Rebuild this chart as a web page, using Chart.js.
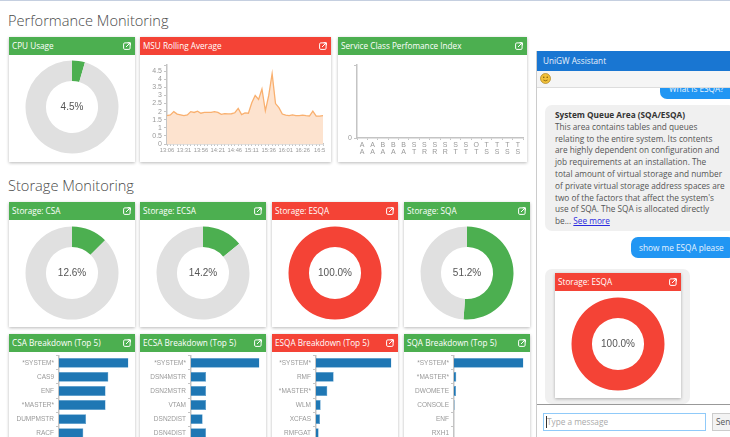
<!DOCTYPE html>
<html>
<head>
<meta charset="utf-8">
<title>Monitoring dashboard</title>
<script src="https://cdn.jsdelivr.net/npm/chart.js@4"></script>
<style>
  html, body { margin: 0; padding: 0; width: 730px; height: 437px; overflow: hidden; background: #fff; }
  body { font-family: "Open Sans", sans-serif; color: #555; position: relative; filter: blur(0.4px); }
  #stripe { position: absolute; left: 0; top: 0; width: 730px; height: 1px; background: #c5cfe0; }
  .section { position: absolute; left: 8px; font-size: 14.6px; font-weight: 300; color: #4a4a4a; line-height: 20px; white-space: nowrap; }
  .card { position: absolute; background: #fff; box-shadow: 0 1px 3px rgba(0,0,0,.28); }
  .card-head { height: 18px; line-height: 18px; color: #fff; font-size: 8.2px; padding-left: 3px; position: relative; white-space: nowrap; }
  .card-head svg { position: absolute; right: 4px; top: 5px; }
  canvas { position: absolute; display: block; }

  #chat { position: absolute; left: 536px; top: 51px; width: 194px; height: 386px; border-left: 1px solid #ccc; box-sizing: border-box; overflow: hidden; }
  #chatHead { height: 20px; line-height: 20px; background: #1976d2; color: #e8f1fb; font-size: 8.2px; padding-left: 6px; }
  #chatTools { height: 16px; background: #f5f5f5; border-bottom: 1px solid #ddd; position: relative; }
  #chatTools svg { position: absolute; left: 3px; top: 2px; }
  .bubble { position: absolute; border-radius: 7px; font-size: 8.25px; line-height: 11.8px; white-space: pre; }
  .bubble.me { background: #2196f3; color: #e6f3fe; text-align: center; }
  .bubble.bot { background: #f0f0f0; color: #555; }
  .bubble b { color: #333; font-weight: 700; }
  .bubble a { color: #2a2ae0; text-decoration: underline; }
  #chatClip { position: absolute; left: 0; top: 37px; width: 194px; height: 316px; overflow: hidden; }
  #chatFoot { position: absolute; left: 0; top: 353px; width: 194px; height: 33px; border-top: 1px solid #999; box-sizing: border-box; background: #fff; }
  #chatInput { position: absolute; left: 6px; top: 8px; width: 163px; height: 18px; border: 1px solid #90caf9; box-sizing: border-box; font-size: 8.25px; line-height: 16px; color: #aaa; padding-left: 3px; }
  #chatInput i { position: absolute; left: 2px; top: 2px; width: 1px; height: 12px; background: #333; }
  #chatSend { position: absolute; left: 175px; top: 8px; width: 32px; height: 18px; background: #f3f3f3; border: 1px solid #ccc; box-sizing: border-box; font-size: 8.25px; line-height: 16px; color: #555; padding-left: 3px; }
</style>
</head>
<body>
<div id="stripe"></div>
<div class="section" style="top:10px">Performance Monitoring</div>
<div class="section" style="top:175px">Storage Monitoring</div>
<div id="cards"></div>

<div id="chat">
  <div id="chatHead">UniGW Assistant</div>
  <div id="chatTools">
    <svg width="11" height="11" viewBox="0 0 11 11"><circle cx="5.5" cy="5.5" r="5" fill="#f2c13a" stroke="#a8801c" stroke-width=".7"/><circle cx="3.8" cy="4.2" r=".7" fill="#6b4e00"/><circle cx="7.2" cy="4.2" r=".7" fill="#6b4e00"/><path d="M3.4 7 Q5.5 8.6 7.6 7" fill="none" stroke="#6b4e00" stroke-width=".7"/></svg>
  </div>
  <div id="chatClip">
    <div class="bubble me" style="left:123px;top:-8px;width:80px;height:19px;line-height:17px;text-align:left;padding-left:9px;box-sizing:border-box">What is ESQA?</div>
    <div class="bubble bot" style="left:8px;top:17px;width:190px;height:126px;padding:4px 0 0 10px;box-sizing:border-box"><b>System Queue Area (SQA/ESQA)</b>
This area contains tables and queues
relating to the entire system. Its contents
are highly dependent on configuration and
job requirements at an installation. The
total amount of virtual storage and number
of private virtual storage address spaces are
two of the factors that affect the system's
use of SQA. The SQA is allocated directly
be... <a>See more</a></div>
    <div class="bubble me" style="left:94px;top:149px;width:104px;height:21px;line-height:21px;text-align:left;padding-left:8px;box-sizing:border-box">show me ESQA please</div>
    <div class="bubble bot" style="left:8px;top:181px;width:145px;height:135px"></div>
  </div>
  <div id="chatFoot">
    <div id="chatInput"><i></i>Type a message</div>
    <div id="chatSend">Send</div>
  </div>
</div>

<script>
const GREEN = '#4caf50';
const RED = '#f44336';
const EMPTY = '#e0e0e0';
const BAR_BLUE = '#1f77b4';
const AXIS = '#c4c4c4';
const TICK_TEXT = '#999';

// ── Data ──────────────────────────────────────────────────────────────
const cpuPct = 4.5;
const csaPct = 12.6;
const ecsaPct = 14.2;
const esqaPct = 100.0;
const sqaPct = 51.2;

const msuTimes = [
  '13:06','13:11','13:16','13:21','13:26','13:31','13:36','13:41','13:46','13:51',
  '13:56','14:01','14:06','14:11','14:16','14:21','14:26','14:31','14:36','14:41',
  '14:46','14:51','14:56','15:01','15:06','15:11','15:16','15:21','15:26','15:31',
  '15:36','15:41','15:46','15:51','15:56','16:01','16:06','16:11','16:16','16:21',
  '16:26','16:31','16:36','16:41','16:46','16:5','16:56'
];
const msuValues = [
  1.75, 1.8, 2.0, 1.85, 1.8, 1.75, 1.8, 2.0, 1.95, 2.03,
  1.9, 1.95, 1.95, 1.95, 2.0, 1.95, 1.83, 1.88, 1.86, 1.87,
  1.93, 2.2, 1.82, 1.92, 1.9, 2.55, 3.0, 2.75, 3.4, 2.05,
  3.0, 4.35, 2.5, 2.25, 1.85, 1.78, 1.75, 1.8, 1.75, 1.75,
  1.78, 1.75, 1.73, 2.03, 1.72, 1.72, 1.75
];
const msuTicks = [0, 0.5, 1, 1.5, 2, 2.5, 3, 3.5, 4, 4.5, 4.87];

const serviceClasses = [
  ['A','A'],['A','A'],['B','A'],['B','A'],['B','A'],['S','T'],['S','R'],['S','R'],
  ['S','R'],['S','T'],['S','T'],['O','T'],['T','S'],['T','S'],['T','S'],['T','S']
];
const serviceValues = [0, 0, 0, 0, 0, 0, 0, 0, 0, 0, 0, 0, 0, 0, 0, 0];

const csaNames = ['*SYSTEM*', 'CAS9', 'ENF', '*MASTER*', 'DUMPMSTR', 'RACF'];
const csaValues = [100, 71, 67, 67, 39, 35];
const ecsaNames = ['*SYSTEM*', 'DSN4MSTR', 'DSN2MSTR', 'VTAM', 'DSN2DIST', 'DSN4DIST'];
const ecsaValues = [100, 22, 22, 22, 17, 22];
const esqaNames = ['*SYSTEM*', 'RMF', '*MASTER*', 'WLM', 'XCFAS', 'RMFGAT'];
const esqaValues = [100, 23.4, 15, 6.2, 5.3, 3.5];
const sqaNames = ['*SYSTEM*', '*MASTER*', 'DWOMETE', 'CONSOLE', 'ENF', 'RXH1'];
const sqaValues = [100, 3.3, 2.9, 0.9, 0.1, 0.1];

// ── Helpers ───────────────────────────────────────────────────────────
Chart.defaults.animation = false;
Chart.defaults.responsive = false;
Chart.defaults.font.family = '"Liberation Sans", Arial, sans-serif';
Chart.defaults.plugins.legend.display = false;
Chart.defaults.plugins.tooltip.enabled = false;

const ICON = '<svg width="8" height="8" viewBox="0 0 8 8"><rect x=".6" y=".9" width="6.5" height="6.5" rx="1.2" fill="none" stroke="#fff" stroke-width="1"/><path d="M3 5 L7 1 M4.6 .7 H7.4 V3.4" fill="none" stroke="#fff" stroke-width="1"/></svg>';

function addCard(parent, x, y, w, h, title, color) {
  const card = document.createElement('div');
  card.className = 'card';
  card.style.cssText = `left:${x}px;top:${y}px;width:${w}px;height:${h}px`;
  card.innerHTML = `<div class="card-head" style="background:${color}">${title}${ICON}</div>`;
  parent.appendChild(card);
  return card;
}

function addCanvas(card, x, y, w, h) {
  const c = document.createElement('canvas');
  c.width = w;
  c.height = h;
  c.style.left = x + 'px';
  c.style.top = y + 'px';
  card.appendChild(c);
  return c;
}

const centerText = {
  id: 'centerText',
  afterDraw(chart, args, opts) {
    const { ctx, chartArea: a } = chart;
    ctx.save();
    ctx.font = '10px "Liberation Sans", Arial, sans-serif';
    ctx.fillStyle = '#555';
    ctx.textAlign = 'center';
    ctx.textBaseline = 'middle';
    ctx.fillText(opts.text, (a.left + a.right) / 2, (a.top + a.bottom) / 2);
    ctx.restore();
  }
};

function gaugeChart(parent, x, y, title, color, pct, cy) {
  const card = addCard(parent, x, y, 126, 125, title, color);
  const canvas = addCanvas(card, 13, cy - y - 50, 100, 100);
  new Chart(canvas, {
    type: 'doughnut',
    data: { datasets: [{ data: [pct, 100 - pct], backgroundColor: [color, EMPTY], borderWidth: 0 }] },
    options: {
      radius: 46.5,
      cutout: 28,
      layout: { padding: 0 },
      plugins: { centerText: { text: pct.toFixed(1) + '%' } }
    },
    plugins: [centerText]
  });
}

function breakdownChart(parent, x, title, color, names, values, plotLeft) {
  const card = addCard(parent, x, 334, 126, 125, title, color);
  const canvas = addCanvas(card, 0, 16, 126, 96);
  new Chart(canvas, {
    type: 'bar',
    data: {
      labels: names,
      datasets: [{ data: values, backgroundColor: BAR_BLUE, borderColor: '#4f97cb', borderWidth: 0.5, categoryPercentage: 0.7, barPercentage: 1 }]
    },
    options: {
      indexAxis: 'y',
      layout: { padding: { right: 6.5 } },
      scales: {
        x: { display: false, min: 0, max: 100 },
        y: {
          afterFit: s => { s.width = plotLeft; },
          grid: { drawOnChartArea: false, color: AXIS, tickLength: 3 },
          border: { color: AXIS, width: 1.5 },
          ticks: { color: TICK_TEXT, font: { size: 6.5 }, padding: 2, autoSkip: false }
        }
      }
    }
  });
}

// ── Cards ─────────────────────────────────────────────────────────────
const cards = document.getElementById('cards');

gaugeChart(cards, 9, 37, 'CPU Usage', GREEN, cpuPct, 107);
gaugeChart(cards, 9, 202, 'Storage: CSA', GREEN, csaPct, 273);
gaugeChart(cards, 140, 202, 'Storage: ECSA', GREEN, ecsaPct, 273);
gaugeChart(cards, 272, 202, 'Storage: ESQA', RED, esqaPct, 273);
gaugeChart(cards, 404, 202, 'Storage: SQA', GREEN, sqaPct, 273);

// MSU line
const msuCard = addCard(cards, 140, 37, 191, 125, 'MSU Rolling Average', RED);
new Chart(addCanvas(msuCard, 0, 22, 191, 103), {
  type: 'line',
  data: {
    labels: msuTimes,
    datasets: [{
      data: msuValues,
      borderColor: '#f9b06f',
      backgroundColor: '#fde3cf',
      borderWidth: 1.3,
      fill: true,
      pointRadius: 0,
      tension: 0
    }]
  },
  options: {
    layout: { padding: { top: 5, right: 8 } },
    scales: {
      x: {
        afterFit: s => { s.height = 18; },
        grid: { drawOnChartArea: false, color: AXIS, tickLength: 2 },
        border: { color: AXIS, width: 1.5 },
        ticks: {
          color: TICK_TEXT, font: { size: 5.8 }, padding: 1, autoSkip: false, maxRotation: 0,
          callback(v, i) { return i % 5 === 0 ? msuTimes[i] : ''; }
        }
      },
      y: {
        min: 0,
        max: 4.87,
        afterFit: s => { s.width = 27; },
        afterBuildTicks: s => { s.ticks = msuTicks.map(value => ({ value })); },
        grid: { drawOnChartArea: false, color: AXIS, tickLength: 3 },
        border: { color: AXIS, width: 1.5 },
        ticks: {
          color: TICK_TEXT, font: { size: 7 }, padding: 2, autoSkip: false,
          callback: v => (v > 4.5 ? '' : v)
        }
      }
    }
  }
});

// Service class bars (all zero)
const svcCard = addCard(cards, 338, 37, 189, 125, 'Service Class Perfomance Index', GREEN);
new Chart(addCanvas(svcCard, 0, 22, 189, 103), {
  type: 'bar',
  data: { labels: serviceClasses, datasets: [{ data: serviceValues, backgroundColor: BAR_BLUE }] },
  options: {
    layout: { padding: { top: 5, right: 4 } },
    scales: {
      x: {
        afterFit: s => { s.height = 24; },
        grid: { drawOnChartArea: false, color: AXIS, tickLength: 2 },
        border: { color: AXIS, width: 1.5 },
        ticks: { color: TICK_TEXT, font: { size: 7, lineHeight: 1 }, padding: 2, autoSkip: false, maxRotation: 0 }
      },
      y: {
        min: 0,
        max: 1,
        afterFit: s => { s.width = 19; },
        grid: { drawOnChartArea: false, color: AXIS, tickLength: 3 },
        border: { color: AXIS, width: 1.5 },
        ticks: {
          color: TICK_TEXT, font: { size: 7 }, padding: 2, stepSize: 1,
          callback: v => (v === 0 ? '0' : '')
        }
      }
    }
  }
});

breakdownChart(cards, 9, 'CSA Breakdown (Top 5)', GREEN, csaNames, csaValues, 50);
breakdownChart(cards, 140, 'ECSA Breakdown (Top 5)', GREEN, ecsaNames, ecsaValues, 51);
breakdownChart(cards, 272, 'ESQA Breakdown (Top 5)', RED, esqaNames, esqaValues, 44);
breakdownChart(cards, 404, 'SQA Breakdown (Top 5)', GREEN, sqaNames, sqaValues, 50);

// ESQA card repeated inside the chat
const chatCard = document.createElement('div');
chatCard.style.cssText = 'position:absolute;left:0;top:0';
document.body.appendChild(chatCard);
gaugeChart(chatCard, 555, 273, 'Storage: ESQA', RED, esqaPct, 344);
</script>
</body>
</html>
